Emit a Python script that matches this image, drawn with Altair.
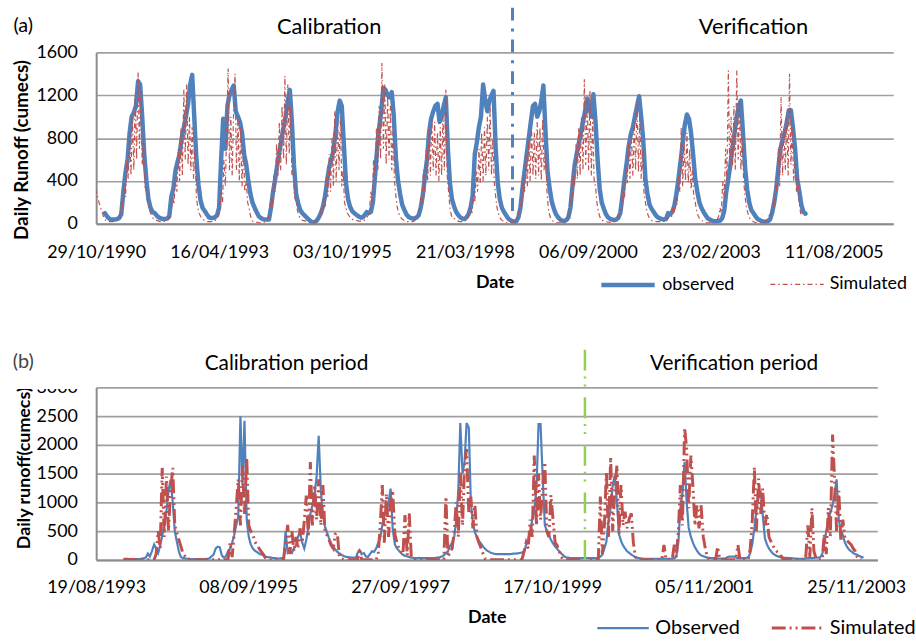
import altair as alt
import pandas as pd

FONT = "Lato"
BLUE = "#4f81bd"
RED = "#c0504d"
GREEN = "#92d050"
GRID = "#a0a0a0"
AXIS_LINE = "#8c8c8c"

# ---------------------------------------------------------------------------
# Panel (a): daily runoff, observed sampled on the 1st and 16th of each month
# ---------------------------------------------------------------------------
A_OBS_1991 = [100, 70, 50, 40, 40, 40, 45, 55, 90, 300, 480, 600, 850, 1000, 1040, 1100, 1330, 1300, 1000, 650, 400, 230, 150, 110]
A_OBS_1992 = [100, 75, 60, 50, 45, 45, 50, 70, 250, 330, 500, 580, 650, 800, 900, 1000, 1120, 1300, 1390, 1000, 600, 365, 220, 150]
A_OBS_1993 = [120, 90, 60, 55, 55, 60, 80, 150, 600, 980, 700, 1100, 1200, 1250, 1290, 1050, 1000, 950, 850, 650, 550, 400, 280, 200]
A_OBS_1994 = [150, 110, 70, 55, 45, 40, 40, 40, 150, 300, 420, 550, 670, 780, 900, 1000, 1150, 1250, 950, 550, 280, 190, 130, 100]
A_OBS_1995 = [80, 60, 40, 25, 15, 15, 30, 60, 100, 160, 260, 400, 530, 600, 680, 850, 1050, 1150, 1100, 750, 380, 230, 160, 120]
A_OBS_1996 = [100, 85, 70, 60, 60, 80, 110, 100, 110, 200, 450, 700, 900, 1050, 1270, 1250, 1200, 1180, 1230, 1000, 600, 400, 280, 180]
A_OBS_1997 = [130, 90, 65, 55, 50, 50, 60, 80, 150, 260, 450, 600, 850, 980, 1050, 1100, 1120, 950, 1000, 1100, 1180, 700, 380, 230]
A_OBS_1998 = [160, 110, 80, 60, 50, 45, 60, 90, 150, 260, 650, 760, 900, 1000, 1300, 1150, 1050, 1150, 1200, 1240, 700, 380, 230, 150]
A_OBS_1999 = [110, 80, 50, 35, 25, 20, 25, 60, 150, 330, 500, 650, 800, 950, 1100, 1120, 1000, 1050, 1150, 1290, 850, 480, 330, 210]
A_OBS_2000 = [140, 90, 60, 40, 30, 25, 35, 60, 150, 350, 550, 650, 750, 850, 950, 1050, 1170, 1100, 1000, 1210, 950, 600, 330, 200]
A_OBS_2001 = [140, 90, 60, 45, 40, 35, 40, 55, 100, 250, 420, 560, 720, 830, 900, 1000, 1100, 1190, 1000, 780, 420, 280, 180, 140]
A_OBS_2002 = [110, 80, 60, 50, 45, 40, 45, 100, 90, 110, 170, 280, 420, 580, 750, 920, 1020, 980, 850, 650, 420, 300, 200, 150]
A_OBS_2003 = [110, 80, 50, 40, 30, 25, 25, 25, 30, 50, 120, 300, 420, 550, 720, 850, 1000, 1100, 1150, 850, 520, 320, 200, 130]
A_OBS_2004 = [100, 70, 45, 35, 25, 20, 20, 25, 40, 100, 200, 330, 520, 700, 780, 850, 950, 1060, 1060, 900, 700, 420, 310, 180]
A_OBS_2005 = [110, 95]

# simulated runoff, sampled on the 1st, 11th and 21st of each month
A_SIM_1990 = [330, 290, 240, 190, 150, 110, 70]
A_SIM_1991 = [40, 30, 25, 20, 20, 20, 20, 25, 30, 40, 60, 90, 200, 150, 380, 250, 600, 420, 850, 450, 1000, 500, 1200, 600, 1420, 700, 1250, 550, 800, 350, 300, 200, 140, 100, 70, 50]
A_SIM_1992 = [40, 35, 30, 25, 20, 20, 20, 25, 30, 35, 45, 60, 120, 250, 180, 450, 300, 700, 400, 900, 450, 1250, 600, 1300, 550, 1000, 500, 900, 420, 700, 250, 150, 100, 70, 50, 40]
A_SIM_1993 = [30, 25, 20, 20, 20, 20, 20, 25, 35, 50, 80, 120, 300, 200, 600, 350, 900, 1450, 500, 1000, 450, 1100, 1400, 500, 1000, 400, 900, 350, 700, 300, 400, 200, 150, 80, 40, 20]
A_SIM_1994 = [20, 15, 15, 10, 10, 10, 10, 15, 20, 30, 50, 100, 250, 150, 450, 300, 750, 450, 950, 500, 1100, 600, 1380, 550, 1300, 650, 1100, 450, 500, 250, 200, 120, 80, 50, 40, 30]
A_SIM_1995 = [30, 25, 20, 15, 10, 10, 10, 15, 20, 30, 40, 60, 120, 80, 250, 150, 450, 250, 650, 300, 800, 350, 1050, 400, 950, 500, 1000, 350, 500, 200, 150, 100, 80, 60, 50, 40]
A_SIM_1996 = [40, 35, 30, 25, 25, 25, 25, 30, 40, 60, 80, 120, 300, 200, 600, 400, 900, 500, 1100, 600, 1500, 700, 1300, 550, 1200, 600, 1100, 500, 900, 400, 250, 150, 100, 70, 50, 40]
A_SIM_1997 = [30, 25, 20, 20, 20, 20, 20, 25, 35, 50, 80, 120, 250, 180, 500, 300, 700, 400, 900, 450, 1000, 500, 950, 450, 850, 400, 900, 450, 1000, 500, 1250, 450, 300, 150, 80, 50]
A_SIM_1998 = [50, 40, 30, 25, 20, 20, 20, 25, 30, 40, 60, 100, 150, 100, 300, 200, 500, 300, 700, 380, 850, 400, 900, 450, 1000, 500, 1100, 450, 800, 400, 250, 150, 100, 60, 40, 30]
A_SIM_1999 = [20, 15, 10, 10, 10, 10, 10, 15, 20, 40, 70, 120, 200, 150, 450, 300, 650, 350, 800, 400, 900, 450, 850, 420, 950, 450, 900, 400, 980, 500, 700, 300, 150, 80, 50, 30]
A_SIM_2000 = [20, 15, 10, 10, 10, 10, 10, 15, 25, 40, 70, 120, 250, 180, 500, 350, 750, 420, 900, 450, 1000, 500, 1350, 550, 1150, 500, 1250, 450, 1000, 420, 350, 200, 120, 70, 40, 30]
A_SIM_2001 = [30, 25, 20, 15, 15, 15, 15, 20, 30, 40, 60, 100, 150, 120, 350, 250, 550, 380, 750, 420, 850, 450, 950, 500, 1140, 480, 1000, 420, 700, 300, 200, 120, 80, 50, 40, 30]
A_SIM_2002 = [30, 25, 20, 20, 20, 20, 20, 25, 30, 35, 45, 60, 80, 60, 150, 100, 250, 180, 450, 300, 900, 350, 750, 400, 850, 380, 700, 320, 500, 250, 200, 120, 80, 50, 40, 30]
A_SIM_2003 = [20, 15, 10, 10, 10, 10, 10, 15, 20, 25, 40, 70, 150, 100, 400, 250, 700, 400, 1430, 500, 1000, 550, 1100, 500, 1430, 600, 1150, 500, 800, 400, 250, 150, 100, 60, 40, 30]
A_SIM_2004 = [20, 15, 10, 10, 10, 10, 10, 15, 20, 25, 40, 60, 100, 80, 200, 150, 400, 300, 700, 350, 1180, 450, 900, 500, 1000, 450, 1400, 550, 900, 400, 600, 300, 430, 200, 100, 80]

# ---------------------------------------------------------------------------
# Panel (b): daily runoff, both series sampled on the 1st, 11th and 21st
# ---------------------------------------------------------------------------
B_OBS_1994 = [15, 15, 15, 15, 15, 15, 15, 15, 15, 20, 30, 40, 110, 60, 150, 270, 200, 120, 250, 420, 600, 850, 1200, 1390, 1000, 500, 320, 150, 50, 30, 25, 20, 20, 15, 15, 15]
B_OBS_1995 = [15, 15, 15, 15, 15, 20, 30, 60, 90, 200, 230, 220, 80, 40, 60, 150, 200, 300, 430, 600, 750, 2500, 1300, 2420, 700, 400, 270, 200, 160, 140, 110, 95, 80, 60, 50, 45]
B_OBS_1996 = [40, 30, 30, 25, 25, 30, 35, 500, 120, 150, 120, 200, 250, 400, 480, 300, 200, 350, 550, 800, 950, 1150, 1450, 2160, 1200, 800, 580, 480, 380, 290, 230, 180, 140, 115, 90, 70]
B_OBS_1997 = [55, 50, 45, 40, 40, 40, 120, 170, 100, 120, 60, 50, 100, 150, 140, 200, 300, 380, 600, 750, 850, 1000, 1240, 550, 270, 200, 160, 120, 90, 70, 60, 50, 40, 35, 30, 30]
B_OBS_1998 = [35, 30, 30, 30, 30, 30, 30, 30, 35, 40, 45, 60, 80, 120, 150, 250, 300, 400, 700, 1200, 2380, 1500, 1700, 2380, 2300, 1000, 650, 480, 400, 330, 280, 230, 190, 160, 140, 120]
B_OBS_1999 = [110, 100, 100, 100, 100, 100, 100, 100, 100, 105, 110, 110, 115, 120, 130, 150, 260, 350, 500, 700, 840, 1240, 2360, 2360, 1400, 610, 500, 430, 350, 290, 230, 190, 150, 110, 80, 50]
B_OBS_2000 = [40, 35, 30, 30, 30, 30, 30, 30, 30, 30, 30, 30, 30, 30, 30, 40, 55, 90, 200, 320, 650, 900, 1300, 1470, 1000, 450, 330, 250, 200, 150, 120, 92, 70, 50, 35, 30]
B_OBS_2001 = [25, 20, 20, 20, 20, 20, 20, 20, 20, 20, 20, 20, 20, 20, 20, 20, 25, 60, 300, 900, 1150, 1700, 1000, 560, 400, 300, 220, 160, 110, 80, 65, 50, 40, 35, 30, 30]
B_OBS_2002 = [30, 25, 25, 25, 25, 30, 50, 60, 55, 60, 40, 30, 30, 30, 30, 35, 40, 120, 280, 550, 850, 1100, 1200, 800, 380, 270, 200, 150, 110, 85, 65, 55, 45, 40, 35, 35]
B_OBS_2003 = [30, 30, 25, 25, 20, 20, 20, 20, 25, 30, 30, 30, 35, 40, 40, 45, 100, 260, 500, 700, 820, 950, 1150, 1400, 700, 500, 430, 300, 230, 180, 150, 120, 100, 90, 70, 50]
B_OBS_2004 = [40]

B_SIM_1994 = [10, 10, 10, 8, 8, 8, 5, 5, 5, 5, 5, 5, 5, 5, 5, 5, 100, 500, 200, 1600, 400, 1450, 500, 1200, 1600, 600, 480, 350, 240, 120, 60, 20, 10, 5, 5, 5]
B_SIM_1995 = [5, 5, 5, 5, 5, 5, 5, 5, 5, 5, 5, 5, 5, 5, 5, 20, 300, 50, 450, 900, 1400, 600, 1650, 800, 1780, 600, 500, 450, 320, 260, 200, 150, 100, 40, 10, 5]
B_SIM_1996 = [5, 5, 5, 5, 5, 5, 10, 300, 610, 100, 500, 150, 400, 200, 550, 300, 670, 1120, 400, 1700, 600, 1300, 700, 1400, 600, 1300, 480, 430, 350, 260, 200, 450, 465, 60, 20, 10]
B_SIM_1997 = [5, 5, 5, 5, 5, 5, 5, 200, 5, 5, 5, 5, 5, 5, 5, 5, 100, 600, 1300, 300, 1150, 400, 1000, 1210, 450, 300, 200, 150, 100, 780, 80, 810, 60, 20, 5, 5]
B_SIM_1998 = [5, 5, 5, 5, 5, 5, 5, 5, 5, 5, 5, 5, 5, 1100, 50, 150, 200, 500, 1000, 400, 1530, 600, 1650, 1930, 800, 1100, 550, 955, 400, 300, 200, 100, 20, 10, 5, 5]
B_SIM_1999 = [5, 5, 5, 5, 5, 5, 5, 5, 5, 5, 5, 5, 5, 5, 5, 150, 300, 200, 700, 400, 1816, 600, 1500, 700, 1300, 1700, 500, 400, 1126, 725, 300, 250, 150, 50, 10, 5]
B_SIM_2000 = [5, 5, 5, 5, 5, 5, 5, 5, 5, 5, 5, 5, 5, 5, 5, 5, 1100, 100, 600, 1530, 400, 1787, 500, 1200, 1644, 450, 1300, 600, 840, 550, 720, 810, 300, 50, 10, 5]
B_SIM_2001 = [5, 5, 5, 5, 5, 5, 5, 5, 5, 5, 5, 260, 10, 5, 5, 10, 264, 50, 500, 1300, 600, 2300, 1931, 900, 1816, 1270, 600, 950, 550, 954, 400, 200, 50, 10, 5, 5]
B_SIM_2002 = [5, 230, 10, 5, 5, 5, 5, 5, 5, 5, 5, 260, 5, 5, 5, 5, 10, 200, 700, 1615, 500, 1414, 800, 1241, 600, 800, 400, 320, 250, 180, 140, 120, 60, 10, 5, 5]
B_SIM_2003 = [5, 5, 5, 5, 5, 5, 5, 5, 5, 600, 50, 900, 150, 30, 5, 5, 5, 450, 100, 900, 400, 2180, 1400, 500, 1200, 320, 700, 380, 340, 300, 265, 200, 150, 50, 10, 5]

# axis ticks, axis extents and the calibration / verification split dates
A_TICKS = ["1990-10-29", "1993-04-16", "1995-10-03", "1998-03-21", "2000-09-06", "2003-02-23", "2005-08-11"]
B_TICKS = ["1993-08-19", "1995-09-08", "1997-09-27", "1999-10-17", "2001-11-05", "2003-11-25"]
A_DOMAIN = ["1990-10-29", "2006-10-20"]
B_DOMAIN = ["1993-08-19", "2004-03-09"]
A_SPLIT = "1999-03-04"
B_SPLIT = "2000-03-27"
A_NAMES = ["observed", "Simulated"]
B_NAMES = ["Observed", "Simulated"]


def semimonthly(year):
    return [pd.Timestamp(year, m, d) for m in range(1, 13) for d in (1, 16)]


def dekadal(year):
    return [pd.Timestamp(year, m, d) for m in range(1, 13) for d in (1, 11, 21)]


def build(blocks, stamps_for, name):
    rows = []
    for year, vals, align in blocks:
        stamps = stamps_for(year)
        stamps = stamps[-len(vals):] if align == "end" else stamps[:len(vals)]
        rows += [{"date": t, "runoff": v, "series": name} for t, v in zip(stamps, vals)]
    return pd.DataFrame(rows)


def dt(s):
    t = pd.Timestamp(s)
    return alt.DateTime(year=t.year, month=t.month, date=t.day)


obs_a = build([
    (1991, A_OBS_1991, "start"), (1992, A_OBS_1992, "start"), (1993, A_OBS_1993, "start"),
    (1994, A_OBS_1994, "start"), (1995, A_OBS_1995, "start"), (1996, A_OBS_1996, "start"),
    (1997, A_OBS_1997, "start"), (1998, A_OBS_1998, "start"), (1999, A_OBS_1999, "start"),
    (2000, A_OBS_2000, "start"), (2001, A_OBS_2001, "start"), (2002, A_OBS_2002, "start"),
    (2003, A_OBS_2003, "start"), (2004, A_OBS_2004, "start"), (2005, A_OBS_2005, "start"),
], semimonthly, A_NAMES[0])

sim_a = build([
    (1990, A_SIM_1990, "end"), (1991, A_SIM_1991, "start"), (1992, A_SIM_1992, "start"),
    (1993, A_SIM_1993, "start"), (1994, A_SIM_1994, "start"), (1995, A_SIM_1995, "start"),
    (1996, A_SIM_1996, "start"), (1997, A_SIM_1997, "start"), (1998, A_SIM_1998, "start"),
    (1999, A_SIM_1999, "start"), (2000, A_SIM_2000, "start"), (2001, A_SIM_2001, "start"),
    (2002, A_SIM_2002, "start"), (2003, A_SIM_2003, "start"), (2004, A_SIM_2004, "start"),
], dekadal, A_NAMES[1])

obs_b = build([
    (1994, B_OBS_1994, "start"), (1995, B_OBS_1995, "start"), (1996, B_OBS_1996, "start"),
    (1997, B_OBS_1997, "start"), (1998, B_OBS_1998, "start"), (1999, B_OBS_1999, "start"),
    (2000, B_OBS_2000, "start"), (2001, B_OBS_2001, "start"), (2002, B_OBS_2002, "start"),
    (2003, B_OBS_2003, "start"), (2004, B_OBS_2004, "start"),
], dekadal, B_NAMES[0])

sim_b = build([
    (1994, B_SIM_1994, "start"), (1995, B_SIM_1995, "start"), (1996, B_SIM_1996, "start"),
    (1997, B_SIM_1997, "start"), (1998, B_SIM_1998, "start"), (1999, B_SIM_1999, "start"),
    (2000, B_SIM_2000, "start"), (2001, B_SIM_2001, "start"), (2002, B_SIM_2002, "start"),
    (2003, B_SIM_2003, "start"),
], dekadal, B_NAMES[1])

ONE = alt.Data(values=[{}])


def text(label, x, y, size, weight="normal", color="#000"):
    return alt.Chart(ONE).mark_text(
        text=label, font=FONT, fontSize=size, fontWeight=weight, color=color,
        align="center", baseline="alphabetic",
    ).encode(x=alt.value(x), y=alt.value(y))


def frame_edge(y):
    # transparent horizontal rule fixing the outer extent of the figure
    return alt.Chart(ONE).mark_rule(color="white", opacity=0).encode(
        x=alt.value(-97), x2=alt.value(819), y=alt.value(y))


def x_axis(ticks, label_pad, title_y):
    return alt.Axis(
        values=[dt(s) for s in ticks], format="%d/%m/%Y", title="Date", grid=False, ticks=False,
        labelFlush=False, labelOverlap=False, labelPadding=label_pad, labelBaseline="alphabetic",
        labelFont=FONT, labelFontSize=18, labelColor="#000",
        titleFont=FONT, titleFontSize=18, titleFontWeight="bold", titleColor="#000",
        titleBaseline="alphabetic", titleY=title_y,
        domainColor=AXIS_LINE, domainWidth=2,
    )


def y_axis(values, title, title_x, title_y, title_size):
    return alt.Axis(
        values=values, format="d", title=title, grid=True, gridColor=GRID, gridWidth=1.6, ticks=False,
        labelPadding=19, labelFont=FONT, labelFontSize=18, labelColor="#000",
        titleFont=FONT, titleFontSize=title_size, titleFontWeight="bold", titleColor="#000",
        titleAngle=270, titleAlign="center", titleBaseline="alphabetic",
        titleX=title_x, titleY=title_y,
        domainColor=AXIS_LINE, domainWidth=2,
    )


def legend(x, y, size, label_size, col_pad):
    return alt.Legend(
        title=None, orient="none", legendX=x, legendY=y, direction="horizontal",
        symbolType="stroke", symbolSize=size, labelFont=FONT, labelFontSize=label_size,
        labelColor="#000", labelOffset=5, columnPadding=col_pad, padding=0,
    )


# ----------------------------- panel (a) -----------------------------------
xa = alt.X("date:T", scale=alt.Scale(domain=[dt(A_DOMAIN[0]), dt(A_DOMAIN[1])], nice=False),
           axis=x_axis(A_TICKS, 34, 64))
ya = alt.Y("runoff:Q", scale=alt.Scale(domain=[0, 1600], nice=False),
           axis=y_axis(list(range(0, 1601, 400)), "Daily Runoff (cumecs)", -69, 98, 19))
leg_a = legend(507, 205, 2900, 18, 33)
enc_a = dict(
    x=xa, y=ya,
    color=alt.Color("series:N", scale=alt.Scale(domain=A_NAMES, range=[BLUE, RED]), legend=leg_a),
    strokeDash=alt.StrokeDash("series:N", scale=alt.Scale(domain=A_NAMES, range=[[1, 0], [5, 3, 1.5, 3]]), legend=leg_a),
    strokeWidth=alt.StrokeWidth("series:N", scale=alt.Scale(domain=A_NAMES, range=[4.5, 1.2]), legend=leg_a),
)
obs_a_line = alt.Chart(obs_a).mark_line(clip=True, strokeJoin="round", strokeCap="round").encode(**enc_a)
sim_a_line = alt.Chart(sim_a).mark_line(clip=True).encode(**enc_a)
split_a = alt.Chart(pd.DataFrame({"date": [pd.Timestamp(A_SPLIT)]})).mark_rule(
    color=BLUE, strokeWidth=3, strokeDash=[13, 8, 3, 8]
).encode(x=alt.X("date:T"), y=alt.value(-45), y2=alt.value(173))

panel_a = alt.layer(
    obs_a_line, sim_a_line, split_a,
    text("(a)", -73.5, -21, 20),
    text("Calibration", 235, -19, 22),
    text("Verification", 663, -19, 22),
    frame_edge(-50),
).properties(width=804, height=173)

# ----------------------------- panel (b) -----------------------------------
xb = alt.X("date:T", scale=alt.Scale(domain=[dt(B_DOMAIN[0]), dt(B_DOMAIN[1])], nice=False),
           axis=x_axis(B_TICKS, 33, 63))
yb = alt.Y("runoff:Q", scale=alt.Scale(domain=[0, 3000], nice=False),
           axis=y_axis(list(range(0, 3001, 500)), "Daily runoff(cumecs)", -67, 81, 18))
leg_b = legend(504, 215, 2700, 20, 25)
enc_b = dict(
    x=xb, y=yb,
    color=alt.Color("series:N", scale=alt.Scale(domain=B_NAMES, range=[BLUE, RED]), legend=leg_b),
    strokeDash=alt.StrokeDash("series:N", scale=alt.Scale(domain=B_NAMES, range=[[1, 0], [14, 4, 2, 4, 2, 4]]), legend=leg_b),
    strokeWidth=alt.StrokeWidth("series:N", scale=alt.Scale(domain=B_NAMES, range=[2.2, 3]), legend=leg_b),
)
obs_b_line = alt.Chart(obs_b).mark_line(clip=True).encode(**enc_b)
sim_b_line = alt.Chart(sim_b).mark_line(clip=True).encode(**enc_b)
split_b = alt.Chart(pd.DataFrame({"date": [pd.Timestamp(B_SPLIT)]})).mark_rule(
    color=GREEN, strokeWidth=2.5, strokeDash=[21, 6, 2, 6, 2, 11]
).encode(x=alt.X("date:T"), y=alt.value(-38), y2=alt.value(174))
# the top of the uppermost tick label is masked by the heading area
mask_b = alt.Chart(ONE).mark_rect(color="white").encode(
    x=alt.value(-87), x2=alt.value(-15), y=alt.value(-14), y2=alt.value(1.5))

panel_b = alt.layer(
    obs_b_line, sim_b_line, split_b, mask_b,
    text("(b)", -73.5, -20, 20, color="#444"),
    text("Calibration period", 192, -18, 21),
    text("Verification period", 643.5, -18, 21),
    frame_edge(253),
).properties(width=788, height=174)

chart = alt.vconcat(panel_a, panel_b, spacing=165, bounds="flush").resolve_scale(
    color="independent", strokeDash="independent", strokeWidth="independent"
).properties(padding=0).configure_view(strokeWidth=0)

chart.save("out.html", embed_options={"renderer": "svg", "actions": False})
